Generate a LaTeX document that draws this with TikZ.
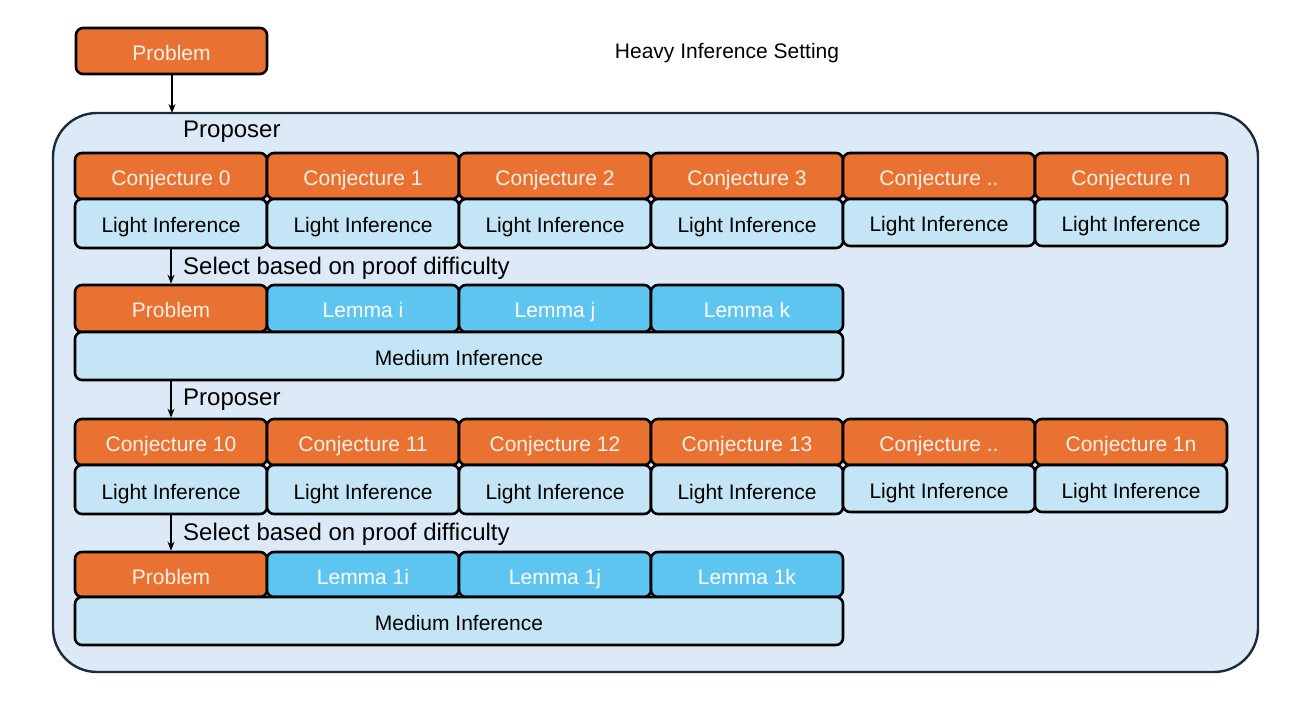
\documentclass[tikz,border=0pt]{standalone}
\usepackage{fontspec}
\setmainfont{Liberation Sans}
\usetikzlibrary{arrows.meta}
\definecolor{orng}{HTML}{E97132}
\definecolor{lightb}{HTML}{C4E5F5}
\definecolor{lemmab}{HTML}{5DC5F0}
\definecolor{outerfill}{HTML}{DCE9F6}
\definecolor{outerline}{HTML}{1C2B3A}
\definecolor{offwhite}{HTML}{FBF1E6}
\begin{document}
\begin{tikzpicture}[x=1pt,y=-1pt,
  box/.style={draw=black,line width=2.6pt,rounded corners=7pt,inner sep=0pt,
    minimum width=192pt,text height=19pt,text depth=0pt,font=\fontsize{21}{25}\selectfont},
  conj/.style={box,fill=orng,text=offwhite,minimum height=46pt},
  light/.style={box,fill=lightb,text=black,minimum height=49pt},
  lemma/.style={box,fill=lemmab,text=white,minimum height=47pt},
  medium/.style={box,fill=lightb,text=black,minimum width=768pt,minimum height=48pt},
  lbl/.style={anchor=base west,inner sep=0pt,font=\fontsize{24}{28}\selectfont},
  arr/.style={-{Stealth[length=9pt,width=7pt]},line width=1.6pt,black}]
\useasboundingbox (0,0) rectangle (1311,708);
% outer frame
\node[draw=outerline,fill=outerfill,line width=2.4pt,rounded corners=44pt,
  minimum width=1205pt,minimum height=559pt,inner sep=0pt] (frame) at (655.5,392.5) {};
\coordinate (ftop) at (172,113);
% top
\node[conj,minimum width=191pt] (p0) at (171.5,51) {Problem};
\node[font=\fontsize{21}{25}\selectfont,inner sep=0pt,anchor=base] (title) at (727,59) {Heavy Inference Setting};
\draw[arr] (p0.south -| ftop) -- (ftop);
\node[lbl] (lab1) at (183,138) {Proposer};
% row 1
\foreach \i/\t in {0/0,1/1,2/2,3/3,4/..,5/n}{
  \node[conj] (c\i) at (171+192*\i,176) {Conjecture \t};
}
\foreach \i in {0,1,2,3}{
  \node[light] (l\i) at (171+192*\i,223.5) {Light Inference};
}
\foreach \i in {4,5}{
  \node[light,minimum height=47pt] (l\i) at (171+192*\i,222.5) {Light Inference};
}
\node[lbl] (lab2) at (183,275) {Select based on proof difficulty};
% row 3
\node[conj,minimum height=47pt] (p1) at (171,308.5) {Problem};
\node[lemma] (mi) at (363,308.5) {Lemma i};
\node[lemma] (mj) at (555,308.5) {Lemma j};
\node[lemma] (mk) at (747,308.5) {Lemma k};
\node[medium] (med1) at (459,356) {Medium Inference};
\draw[arr] (l0.south) -- (p1.north);
\node[lbl] (lab3) at (183,405) {Proposer};
% row 5
\foreach \i/\t in {0/10,1/11,2/12,3/13,4/..,5/1n}{
  \node[conj] (d\i) at (171+192*\i,442) {Conjecture \t};
}
\foreach \i in {0,1,2,3}{
  \node[light] (k\i) at (171+192*\i,489.5) {Light Inference};
}
\foreach \i in {4,5}{
  \node[light,minimum height=47pt] (k\i) at (171+192*\i,488.5) {Light Inference};
}
\draw[arr] (med1.south -| l0) -- (d0.north);
\node[lbl] (lab4) at (183,540) {Select based on proof difficulty};
% row 7
\node[conj,minimum height=45pt] (p2) at (171,574.5) {Problem};
\node[lemma,minimum height=45pt] (ni) at (363,574.5) {Lemma 1i};
\node[lemma,minimum height=45pt] (nj) at (555,574.5) {Lemma 1j};
\node[lemma,minimum height=45pt] (nk) at (747,574.5) {Lemma 1k};
\node[medium] (med2) at (459,621) {Medium Inference};
\draw[arr] (k0.south) -- (p2.north);
\end{tikzpicture}
\end{document}
